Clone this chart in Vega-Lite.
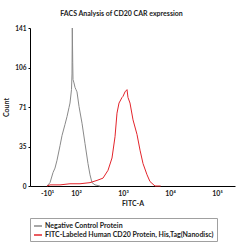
{
  "$schema": "https://vega.github.io/schema/vega-lite/v6.json",
  "autosize": "none",
  "width": 205,
  "height": 158,
  "padding": {"left": 30, "top": 28, "right": 15, "bottom": 64},
  "background": "white",
  "title": {
    "text": "FACS Analysis of CD20 CAR expression",
    "font": "Lato",
    "fontSize": 7,
    "fontWeight": "bold",
    "color": "#222222",
    "anchor": "middle",
    "dx": -11,
    "offset": 8
  },
  "data": {
    "values": [
      {"series": "Negative Control Protein", "fitc_log": 1.383, "count": 0},
      {"series": "Negative Control Protein", "fitc_log": 1.447, "count": 3},
      {"series": "Negative Control Protein", "fitc_log": 1.511, "count": 12},
      {"series": "Negative Control Protein", "fitc_log": 1.553, "count": 16},
      {"series": "Negative Control Protein", "fitc_log": 1.596, "count": 23},
      {"series": "Negative Control Protein", "fitc_log": 1.660, "count": 36},
      {"series": "Negative Control Protein", "fitc_log": 1.702, "count": 45},
      {"series": "Negative Control Protein", "fitc_log": 1.766, "count": 55},
      {"series": "Negative Control Protein", "fitc_log": 1.809, "count": 62},
      {"series": "Negative Control Protein", "fitc_log": 1.851, "count": 70},
      {"series": "Negative Control Protein", "fitc_log": 1.872, "count": 74},
      {"series": "Negative Control Protein", "fitc_log": 1.904, "count": 86},
      {"series": "Negative Control Protein", "fitc_log": 1.915, "count": 100},
      {"series": "Negative Control Protein", "fitc_log": 1.921, "count": 141},
      {"series": "Negative Control Protein", "fitc_log": 1.930, "count": 110},
      {"series": "Negative Control Protein", "fitc_log": 1.936, "count": 95},
      {"series": "Negative Control Protein", "fitc_log": 1.957, "count": 92},
      {"series": "Negative Control Protein", "fitc_log": 1.979, "count": 88},
      {"series": "Negative Control Protein", "fitc_log": 2.000, "count": 86},
      {"series": "Negative Control Protein", "fitc_log": 2.021, "count": 84},
      {"series": "Negative Control Protein", "fitc_log": 2.064, "count": 71},
      {"series": "Negative Control Protein", "fitc_log": 2.085, "count": 66},
      {"series": "Negative Control Protein", "fitc_log": 2.128, "count": 56},
      {"series": "Negative Control Protein", "fitc_log": 2.191, "count": 38},
      {"series": "Negative Control Protein", "fitc_log": 2.255, "count": 20},
      {"series": "Negative Control Protein", "fitc_log": 2.298, "count": 10},
      {"series": "Negative Control Protein", "fitc_log": 2.340, "count": 3},
      {"series": "Negative Control Protein", "fitc_log": 2.404, "count": 1},
      {"series": "Negative Control Protein", "fitc_log": 2.511, "count": 0},
      {"series": "FITC-Labeled Human CD20 Protein, His,Tag(Nanodisc)", "fitc_log": 1.383, "count": 0},
      {"series": "FITC-Labeled Human CD20 Protein, His,Tag(Nanodisc)", "fitc_log": 1.447, "count": 1},
      {"series": "FITC-Labeled Human CD20 Protein, His,Tag(Nanodisc)", "fitc_log": 1.660, "count": 1},
      {"series": "FITC-Labeled Human CD20 Protein, His,Tag(Nanodisc)", "fitc_log": 1.872, "count": 2},
      {"series": "FITC-Labeled Human CD20 Protein, His,Tag(Nanodisc)", "fitc_log": 2.085, "count": 2},
      {"series": "FITC-Labeled Human CD20 Protein, His,Tag(Nanodisc)", "fitc_log": 2.298, "count": 3},
      {"series": "FITC-Labeled Human CD20 Protein, His,Tag(Nanodisc)", "fitc_log": 2.447, "count": 5},
      {"series": "FITC-Labeled Human CD20 Protein, His,Tag(Nanodisc)", "fitc_log": 2.574, "count": 7},
      {"series": "FITC-Labeled Human CD20 Protein, His,Tag(Nanodisc)", "fitc_log": 2.681, "count": 14},
      {"series": "FITC-Labeled Human CD20 Protein, His,Tag(Nanodisc)", "fitc_log": 2.766, "count": 25},
      {"series": "FITC-Labeled Human CD20 Protein, His,Tag(Nanodisc)", "fitc_log": 2.830, "count": 44},
      {"series": "FITC-Labeled Human CD20 Protein, His,Tag(Nanodisc)", "fitc_log": 2.872, "count": 65},
      {"series": "FITC-Labeled Human CD20 Protein, His,Tag(Nanodisc)", "fitc_log": 2.915, "count": 74},
      {"series": "FITC-Labeled Human CD20 Protein, His,Tag(Nanodisc)", "fitc_log": 2.979, "count": 79},
      {"series": "FITC-Labeled Human CD20 Protein, His,Tag(Nanodisc)", "fitc_log": 3.000, "count": 80},
      {"series": "FITC-Labeled Human CD20 Protein, His,Tag(Nanodisc)", "fitc_log": 3.043, "count": 84},
      {"series": "FITC-Labeled Human CD20 Protein, His,Tag(Nanodisc)", "fitc_log": 3.085, "count": 86},
      {"series": "FITC-Labeled Human CD20 Protein, His,Tag(Nanodisc)", "fitc_log": 3.106, "count": 79},
      {"series": "FITC-Labeled Human CD20 Protein, His,Tag(Nanodisc)", "fitc_log": 3.149, "count": 74},
      {"series": "FITC-Labeled Human CD20 Protein, His,Tag(Nanodisc)", "fitc_log": 3.213, "count": 59},
      {"series": "FITC-Labeled Human CD20 Protein, His,Tag(Nanodisc)", "fitc_log": 3.298, "count": 46},
      {"series": "FITC-Labeled Human CD20 Protein, His,Tag(Nanodisc)", "fitc_log": 3.362, "count": 32},
      {"series": "FITC-Labeled Human CD20 Protein, His,Tag(Nanodisc)", "fitc_log": 3.426, "count": 20},
      {"series": "FITC-Labeled Human CD20 Protein, His,Tag(Nanodisc)", "fitc_log": 3.511, "count": 10},
      {"series": "FITC-Labeled Human CD20 Protein, His,Tag(Nanodisc)", "fitc_log": 3.574, "count": 4},
      {"series": "FITC-Labeled Human CD20 Protein, His,Tag(Nanodisc)", "fitc_log": 3.681, "count": 0},
      {"series": "FITC-Labeled Human CD20 Protein, His,Tag(Nanodisc)", "fitc_log": 3.800, "count": 0}
    ]
  },
  "mark": {"type": "line", "strokeWidth": 1, "interpolate": "linear"},
  "encoding": {
    "x": {
      "field": "fitc_log",
      "type": "quantitative",
      "scale": {"domain": [1.021, 5.383], "nice": false, "zero": false},
      "axis": {
        "title": "FITC-A",
        "titleFont": "Lato",
        "titleFontSize": 7,
        "titleFontWeight": "bold",
        "titleColor": "#222222",
        "titlePadding": 3,
        "values": [1.383, 2, 3, 4, 5],
        "labelExpr": "datum.value < 1.5 ? '-10¹' : datum.value == 2 ? '10²' : datum.value == 3 ? '10³' : datum.value == 4 ? '10⁴' : '10⁵'",
        "labelFont": "Lato",
        "labelFontSize": 7,
        "labelFontWeight": "bold",
        "labelColor": "#222222",
        "labelPadding": 3,
        "ticks": false,
        "grid": false,
        "domainColor": "#000000",
        "domainWidth": 1
      }
    },
    "y": {
      "field": "count",
      "type": "quantitative",
      "scale": {"domain": [0, 141], "nice": false},
      "axis": {
        "title": "Count",
        "titleFont": "Lato",
        "titleFontSize": 7,
        "titleFontWeight": "bold",
        "titleColor": "#222222",
        "titlePadding": 5,
        "values": [0, 35.25, 70.5, 105.75, 141],
        "format": ".0f",
        "labelFont": "Lato",
        "labelFontSize": 6.5,
        "labelFontWeight": "bold",
        "labelColor": "#222222",
        "labelPadding": 2,
        "tickSize": 2,
        "tickColor": "#000000",
        "grid": false,
        "domainColor": "#000000",
        "domainWidth": 1
      }
    },
    "color": {
      "field": "series",
      "type": "nominal",
      "scale": {
        "domain": ["Negative Control Protein", "FITC-Labeled Human CD20 Protein, His,Tag(Nanodisc)"],
        "range": ["#8a8a8a", "#e3242b"]
      },
      "legend": {
        "title": null,
        "orient": "none",
        "legendX": 0,
        "legendY": 190,
        "direction": "vertical",
        "symbolType": "stroke",
        "symbolSize": 64,
        "symbolStrokeWidth": 1.5,
        "labelFont": "Lato",
        "labelFontSize": 7,
        "labelFontWeight": "bold",
        "labelColor": "#222222",
        "labelLimit": 300,
        "labelOffset": 2,
        "rowPadding": 1,
        "padding": 3,
        "strokeColor": "#a0a0a0",
        "fillColor": "white"
      }
    }
  },
  "config": {"view": {"stroke": null}}
}
